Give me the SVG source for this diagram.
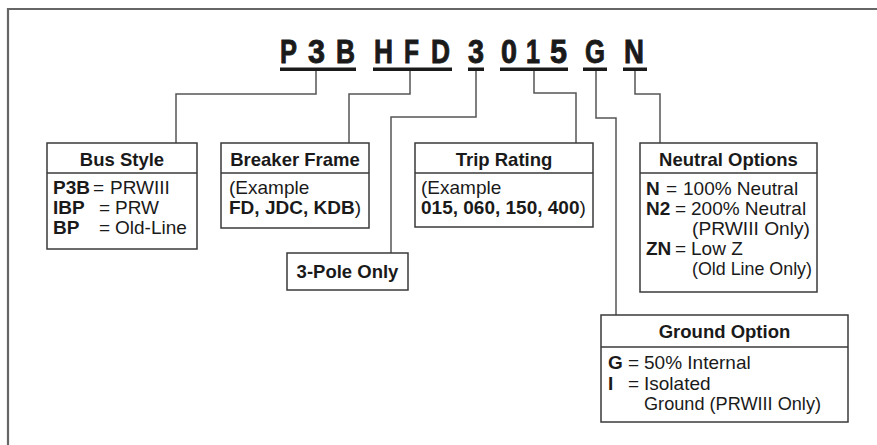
<svg xmlns="http://www.w3.org/2000/svg" width="877" height="445" viewBox="0 0 877 445">
<style>
.frame{fill:none;stroke:#666;stroke-width:2.2}
.box{fill:#fff;stroke:#3a3a3a;stroke-width:1.5}
.conn{fill:none;stroke:#555;stroke-width:1.5}
.code{font-family:"Liberation Sans",Arial,sans-serif;font-weight:bold;font-size:33px;fill:#1a1a1a;stroke:#1a1a1a;stroke-width:0.9}
.ul{fill:#1a1a1a}
.h{font-family:"Liberation Sans",Arial,sans-serif;font-weight:bold;font-size:18.5px;fill:#1a1a1a;text-anchor:middle}
.t{font-family:"Liberation Sans",Arial,sans-serif;font-size:19px;fill:#1a1a1a}
.b{font-weight:bold}
</style>
<rect width="877" height="445" fill="#fff"/>
<path class="frame" d="M8,445 V9 H877"/>

<g id="code">
<text class="code" x="280" y="63" textLength="17" lengthAdjust="spacingAndGlyphs">P</text>
<text class="code" x="308" y="63" textLength="17" lengthAdjust="spacingAndGlyphs">3</text>
<text class="code" x="336" y="63" textLength="19" lengthAdjust="spacingAndGlyphs">B</text>
<rect class="ul" x="280" y="67.5" width="76" height="3.5"/>
<text class="code" x="374" y="63" textLength="19" lengthAdjust="spacingAndGlyphs">H</text>
<text class="code" x="404" y="63" textLength="15" lengthAdjust="spacingAndGlyphs">F</text>
<text class="code" x="431" y="63" textLength="19" lengthAdjust="spacingAndGlyphs">D</text>
<rect class="ul" x="373" y="67.5" width="79" height="3.5"/>
<text class="code" x="468" y="63" textLength="16" lengthAdjust="spacingAndGlyphs">3</text>
<rect class="ul" x="468" y="67.5" width="16" height="3.5"/>
<text class="code" x="501" y="63" textLength="16" lengthAdjust="spacingAndGlyphs">0</text>
<text class="code" x="526" y="63" textLength="14" lengthAdjust="spacingAndGlyphs">1</text>
<text class="code" x="550" y="63" textLength="17" lengthAdjust="spacingAndGlyphs">5</text>
<rect class="ul" x="500" y="67.5" width="68" height="3.5"/>
<text class="code" x="585" y="63" textLength="20" lengthAdjust="spacingAndGlyphs">G</text>
<rect class="ul" x="583" y="67.5" width="24" height="3.5"/>
<text class="code" x="624" y="63" textLength="20" lengthAdjust="spacingAndGlyphs">N</text>
<rect class="ul" x="623" y="67.5" width="24" height="3.5"/>
</g>

<g id="connectors">
<path class="conn" d="M316,71 V94 H176 V143"/>
<path class="conn" d="M410,71 V94 H349 V143"/>
<path class="conn" d="M476,71 V117 H391 V253"/>
<path class="conn" d="M534,71 V93 H576 V143"/>
<path class="conn" d="M596,71 V118 H616 V315"/>
<path class="conn" d="M635,71 V94 H660 V143"/>
</g>

<g id="bus-style">
<rect class="box" x="47" y="143" width="150" height="106"/>
<line class="box" x1="47" y1="173" x2="197" y2="173"/>
<text class="h" x="122" y="166">Bus Style</text>
<text class="t" y="194"><tspan class="b" x="53">P3B</tspan><tspan x="93">=</tspan><tspan x="110">PRWIII</tspan></text>
<text class="t" y="214"><tspan class="b" x="53">IBP</tspan><tspan x="99">=</tspan><tspan x="115">PRW</tspan></text>
<text class="t" y="234"><tspan class="b" x="53">BP</tspan><tspan x="99">=</tspan><tspan x="115">Old-Line</tspan></text>
</g>

<g id="breaker-frame">
<rect class="box" x="221" y="143" width="148" height="85"/>
<line class="box" x1="221" y1="173" x2="369" y2="173"/>
<text class="h" x="295" y="166">Breaker Frame</text>
<text class="t" x="229" y="194">(Example</text>
<text class="t" x="229" y="214"><tspan class="b">FD, JDC, KDB</tspan>)</text>
</g>

<g id="three-pole">
<rect class="box" x="287" y="253" width="121" height="37"/>
<text class="h" x="347.5" y="278">3-Pole Only</text>
</g>

<g id="trip-rating">
<rect class="box" x="415" y="143" width="178" height="84"/>
<line class="box" x1="415" y1="173" x2="593" y2="173"/>
<text class="h" x="504" y="166">Trip Rating</text>
<text class="t" x="421" y="194">(Example</text>
<text class="t" x="421" y="214"><tspan class="b">015, 060, 150, 400</tspan>)</text>
</g>

<g id="neutral-options">
<rect class="box" x="640" y="143" width="177" height="149"/>
<line class="box" x1="640" y1="173" x2="817" y2="173"/>
<text class="h" x="728.5" y="166">Neutral Options</text>
<text class="t" y="195"><tspan class="b" x="646">N</tspan><tspan x="666">=</tspan><tspan x="683">100% Neutral</tspan></text>
<text class="t" y="215"><tspan class="b" x="646">N2</tspan><tspan x="675">=</tspan><tspan x="691">200% Neutral</tspan></text>
<text class="t" x="692" y="235" textLength="118" lengthAdjust="spacingAndGlyphs">(PRWIII Only)</text>
<text class="t" y="255"><tspan class="b" x="646">ZN</tspan><tspan x="675">=</tspan><tspan x="691">Low Z</tspan></text>
<text class="t" x="692" y="275" textLength="120" lengthAdjust="spacingAndGlyphs">(Old Line Only)</text>
</g>

<g id="ground-option">
<rect class="box" x="601" y="315" width="247" height="107"/>
<line class="box" x1="601" y1="347" x2="848" y2="347"/>
<text class="h" x="724.5" y="338">Ground Option</text>
<text class="t" y="369"><tspan class="b" x="608">G</tspan><tspan x="628">=</tspan><tspan x="644">50% Internal</tspan></text>
<text class="t" y="390"><tspan class="b" x="608">I</tspan><tspan x="628">=</tspan><tspan x="644">Isolated</tspan></text>
<text class="t" x="644" y="410" textLength="177" lengthAdjust="spacingAndGlyphs">Ground (PRWIII Only)</text>
</g>
</svg>
